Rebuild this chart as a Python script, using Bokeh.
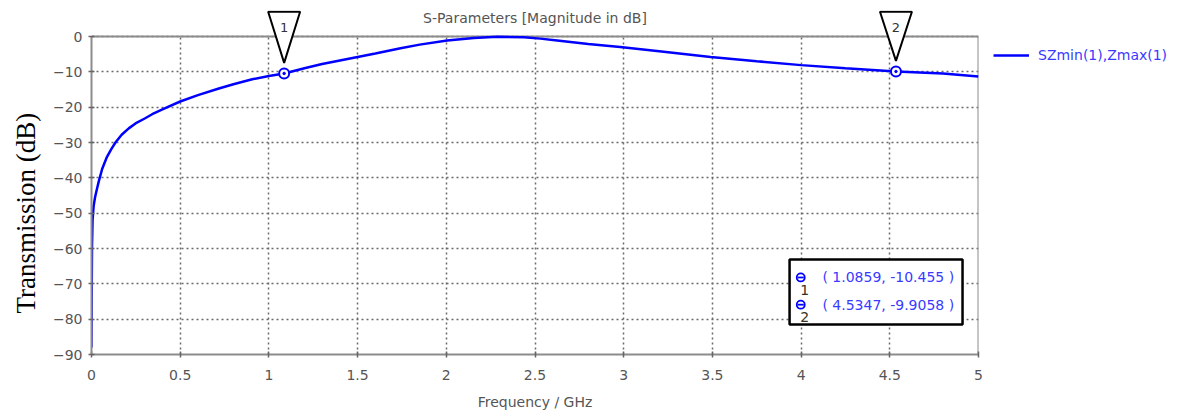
import numpy as np
from bokeh.plotting import figure
from bokeh.models import (Range1d, Legend, LegendItem, Label, PolyAnnotation,
                          BoxAnnotation, NumeralTickFormatter, ColumnDataSource,
                          Title)
from bokeh.core.properties import value
from bokeh.embed import file_html
from bokeh.resources import INLINE

# ---------------- data ----------------
freq_ghz = [0.0, 0.0015, 0.003, 0.006, 0.012, 0.02, 0.03, 0.041, 0.06, 0.085,
            0.11, 0.135, 0.17, 0.21, 0.248, 0.3, 0.342, 0.4, 0.5, 0.6, 0.718,
            0.8, 0.906, 1.0, 1.0859, 1.2, 1.3, 1.4, 1.5, 1.6, 1.742, 1.85,
            2.005, 2.155, 2.287, 2.437, 2.53, 2.625, 2.8, 2.98, 3.2, 3.49,
            3.75, 4.0, 4.25, 4.5347, 4.8, 5.0]
s21_db = [-88.0, -70.0, -59.0, -52.0, -48.0, -45.5, -43.3, -41.0, -37.5, -34.3,
          -32.0, -30.0, -27.8, -26.0, -24.6, -23.2, -22.0, -20.6, -18.4, -16.6,
          -14.7, -13.5, -12.1, -11.2, -10.455, -9.0, -7.8, -6.8, -5.8, -4.8,
          -3.3, -2.3, -1.1, -0.4, -0.1, -0.2, -0.6, -1.1, -2.1, -3.0, -4.2,
          -5.8, -7.0, -8.1, -9.0, -9.9058, -10.5, -11.3]

marker_ids = ["1", "2"]
marker_freq = [1.0859, 4.5347]
marker_db = [-10.455, -9.9058]

x_ticks = [0, 0.5, 1, 1.5, 2, 2.5, 3, 3.5, 4, 4.5, 5]
y_ticks = [0, -10, -20, -30, -40, -50, -60, -70, -80, -90]

title_text = "S-Parameters [Magnitude in dB]"
x_label = "Frequency / GHz"
y_label = "Transmission (dB)"
series_name = "SZmin(1),Zmax(1)"

# ---------------- styles ----------------
SANS = "DejaVu Sans"
BLUE = "#0000ff"
TXT_BLUE = "#3a3aff"
GRAY = "#555555"
BORDER = "#8c8c8c"

X0, X1 = 0, 5
Y0, Y1 = -90, 0
Y_HEAD = 7.36   # head room above 0 dB for the marker flags and title

p = figure(frame_width=887, frame_height=344,
           min_border_left=91, min_border_right=204,
           min_border_top=10, min_border_bottom=63,
           x_range=Range1d(X0, X1), y_range=Range1d(Y0, Y_HEAD),
           output_backend="svg", toolbar_location=None,
           background_fill_color="white", border_fill_color="white")
p.outline_line_color = None

# title (sits inside the head room)
p.add_layout(Label(x=(X0 + X1) / 2, y=5.3, text=title_text, text_align="center",
                   text_baseline="middle", text_font=SANS,
                   text_font_size="14px", text_color=GRAY))

p.xaxis.ticker = x_ticks
p.yaxis.ticker = y_ticks
p.yaxis.bounds = (Y0, Y1)
p.xaxis.formatter = NumeralTickFormatter(format="0.[0]")
for ax in (p.xaxis, p.yaxis):
    ax.axis_line_color = BORDER
    ax.axis_line_width = 2
    ax.major_tick_in = 3
    ax.major_tick_out = 3
    ax.major_tick_line_color = "#666666"
    ax.major_tick_line_width = 1.5
    ax.minor_tick_line_color = None
    ax.major_label_text_font = SANS
    ax.major_label_text_font_size = "14px"
    ax.major_label_text_color = GRAY
p.xaxis.major_label_standoff = 12
p.yaxis.major_label_standoff = 6

p.xaxis.axis_label = x_label
p.xaxis.axis_label_text_font = SANS
p.xaxis.axis_label_text_font_size = "14px"
p.xaxis.axis_label_text_font_style = "normal"
p.xaxis.axis_label_text_color = GRAY
p.xaxis.axis_label_standoff = 11

ytitle = Title(text=y_label, align="left", text_font="Liberation Serif",
               text_font_size="27px", text_font_style="normal",
               text_color="black", standoff=17, offset=41)
p.add_layout(ytitle, "left")

# frame border top/right
p.segment(x0=[X0, X1], y0=[Y1, Y0], x1=[X1, X1], y1=[Y1, Y1],
          line_color=BORDER, line_width=2)

p.xgrid.cross_bounds = (Y0, Y1)
p.grid.grid_line_color = "#6a6a6a"
p.grid.grid_line_dash = "2 3"
p.grid.grid_line_width = 1.5

# curve
src = ColumnDataSource(dict(f=freq_ghz, s=s21_db))
r = p.line("f", "s", source=src, line_color=BLUE, line_width=2.5)

legend = Legend(items=[LegendItem(label=series_name, renderers=[r])],
                location=(5, 279), orientation="vertical",
                border_line_alpha=0, background_fill_alpha=0,
                glyph_width=36, label_standoff=9, margin=0, padding=10,
                label_text_font=SANS, label_text_font_size="14px",
                label_text_color=TXT_BLUE)
p.add_layout(legend, "right")

# markers on the curve
msrc = ColumnDataSource(dict(f=marker_freq, s=marker_db, id=marker_ids))
p.scatter("f", "s", source=msrc, marker="circle", size=10, line_color=BLUE,
          line_width=2, fill_color="white")
p.scatter("f", "s", source=msrc, marker="circle", size=2.5, line_color=BLUE,
          fill_color=BLUE)

# marker flags (inverted triangles above the curve)
for mid, mf, md in zip(marker_ids, marker_freq, marker_db):
    p.add_layout(PolyAnnotation(xs=[mf - 0.09, mf + 0.09, mf],
                                ys=[7.0, 7.0, md + 3.0],
                                fill_color="white", fill_alpha=1,
                                line_color="black", line_alpha=1, line_width=2,
                                level="overlay"))
    p.add_layout(Label(x=mf, y=2.6, text=mid, text_align="center",
                       text_baseline="middle", text_font=SANS,
                       text_font_size="13px", text_color="#333333",
                       level="overlay"))

# marker readout box
box_left, box_right, box_top, box_bottom = 3.935, 4.91, -63.1, -81.5
p.add_layout(BoxAnnotation(left=box_left, right=box_right, top=box_top,
                           bottom=box_bottom, fill_color="white", fill_alpha=1,
                           line_color="black", line_alpha=1, line_width=2.5))
row_y = [-68.2, -75.9]
bsrc = ColumnDataSource(dict(
    x=[3.998] * len(marker_ids), y=row_y,
    tx=[4.12] * len(marker_ids),
    nx=[4.02] * len(marker_ids),
    ny=[yy - 3.6 for yy in row_y],
    id=marker_ids,
    txt=["( %s, %s )" % (f, d) for f, d in zip(marker_freq, marker_db)]))
p.scatter("x", "y", source=bsrc, marker="circle", size=8, line_color=BLUE,
          line_width=1.8, fill_color="white", level="overlay")
p.scatter("x", "y", source=bsrc, marker="dash", size=6, line_color=BLUE,
          line_width=1.8, level="overlay")
p.text("nx", "ny", text="id", source=bsrc, text_align="center",
       text_baseline="middle", text_font=value(SANS), text_font_size="14px",
       text_color="#3a3020", level="overlay")
p.text("tx", "y", text="txt", source=bsrc, text_align="left",
       text_baseline="middle", text_font=value(SANS), text_font_size="14px",
       text_color=TXT_BLUE, level="overlay")

open("out.html", "w").write(file_html(p, INLINE))
